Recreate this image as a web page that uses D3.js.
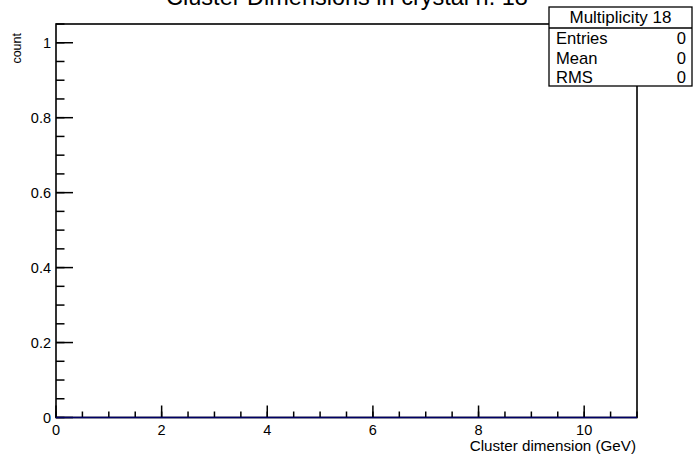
<!DOCTYPE html>
<html><head><meta charset="utf-8">
<script src="https://cdn.jsdelivr.net/npm/d3@7"></script>
<style>body{margin:0;background:#fff}svg{display:block}text{font-family:"Liberation Sans",Arial,sans-serif}</style>
</head><body>
<script>
const title = "Cluster Dimensions in crystal n. 18";
const xLabel = "Cluster dimension (GeV)";
const yLabel = "count";
const xDomain = [0, 11];
const yDomain = [0, 1.05];
const xMajorTicks = [0, 2, 4, 6, 8, 10];
const yMajorTicks = [0, 0.2, 0.4, 0.6, 0.8, 1];
const binEdges = [0, 11];
const binCounts = [0];
const statsTitle = "Multiplicity 18";
const statsNames = ["Entries", "Mean", "RMS"];
const statsValues = ["0", "0", "0"];

const W = 693, H = 456;
const m = {l: 56, r: 637, t: 24, b: 417.5};
const svg = d3.select("body").append("svg").attr("width", W).attr("height", H);
const x = d3.scaleLinear().domain(xDomain).range([m.l, m.r]);
const y = d3.scaleLinear().domain(yDomain).range([m.b, m.t]);

// frame
svg.append("rect").attr("x", m.l).attr("y", m.t).attr("width", m.r - m.l).attr("height", m.b - m.t)
  .attr("fill", "none").attr("stroke", "#000").attr("stroke-width", 1.6);

// x axis
const xMinor = d3.range(xDomain[0], xDomain[1] + 0.001, 0.5);
const gx = svg.append("g");
gx.selectAll("line.mi").data(xMinor).join("line")
  .attr("x1", d => x(d)).attr("x2", d => x(d)).attr("y1", m.b).attr("y2", m.b - 6)
  .attr("stroke", "#000").attr("stroke-width", 1.5);
gx.selectAll("line.ma").data(xMajorTicks).join("line")
  .attr("x1", d => x(d)).attr("x2", d => x(d)).attr("y1", m.b).attr("y2", m.b - 12)
  .attr("stroke", "#000").attr("stroke-width", 1.5);
gx.selectAll("text").data(xMajorTicks).join("text")
  .attr("x", d => x(d)).attr("y", 435).attr("text-anchor", "middle")
  .attr("font-size", 14.5).text(d => d3.format("")(d));

// y axis
const yMinor = d3.range(0, 1.0501, 0.05);
const gy = svg.append("g");
gy.selectAll("line.mi").data(yMinor).join("line")
  .attr("x1", m.l).attr("x2", m.l + 8.5).attr("y1", d => y(d)).attr("y2", d => y(d))
  .attr("stroke", "#000").attr("stroke-width", 1.5);
gy.selectAll("line.ma").data(yMajorTicks).join("line")
  .attr("x1", m.l).attr("x2", m.l + 17).attr("y1", d => y(d)).attr("y2", d => y(d))
  .attr("stroke", "#000").attr("stroke-width", 1.5);
gy.selectAll("text").data(yMajorTicks).join("text")
  .attr("x", 51).attr("y", d => y(d) + 5.5).attr("text-anchor", "end")
  .attr("font-size", 14.5).text(d => d3.format("")(d));

// histogram line
const histPts = binCounts.map((c, i) => [binEdges[i], c]).concat([[binEdges[binEdges.length - 1], binCounts[binCounts.length - 1]]]);
svg.append("path").datum(histPts)
  .attr("d", d3.line().x(d => x(d[0])).y(d => y(d[1])).curve(d3.curveStepAfter))
  .attr("fill", "none").attr("stroke", "#000066").attr("stroke-width", 1.6);

// axis titles
svg.append("text").attr("x", m.r - 1).attr("y", 451).attr("text-anchor", "end")
  .attr("font-size", 15.2).text(xLabel);
svg.append("text").attr("transform", `translate(21,${m.t + 9}) rotate(-90)`).attr("text-anchor", "end")
  .attr("font-size", 12.5).text(yLabel);

// title
svg.append("text").attr("x", 347).attr("y", 5).attr("text-anchor", "middle")
  .attr("font-size", 23.5).text(title);

// stats box
const sb = {x: 549, y: 7, w: 143, h: 79, hh: 21};
svg.append("rect").attr("x", sb.x).attr("y", sb.y).attr("width", sb.w).attr("height", sb.h)
  .attr("fill", "#fff").attr("stroke", "#000").attr("stroke-width", 1.3);
svg.append("line").attr("x1", sb.x).attr("x2", sb.x + sb.w).attr("y1", sb.y + sb.hh).attr("y2", sb.y + sb.hh)
  .attr("stroke", "#000").attr("stroke-width", 1.3);
svg.append("text").attr("x", 620.5).attr("y", 23).attr("text-anchor", "middle")
  .attr("font-size", 17).text(statsTitle);
const rowH = 19.5;
statsNames.forEach((n, i) => {
  const by = 44 + rowH * i;
  svg.append("text").attr("x", 556).attr("y", by).attr("font-size", 16.6).text(n);
  svg.append("text").attr("x", 686).attr("y", by).attr("text-anchor", "end").attr("font-size", 16.6).text(statsValues[i]);
});
</script>
</body></html>
